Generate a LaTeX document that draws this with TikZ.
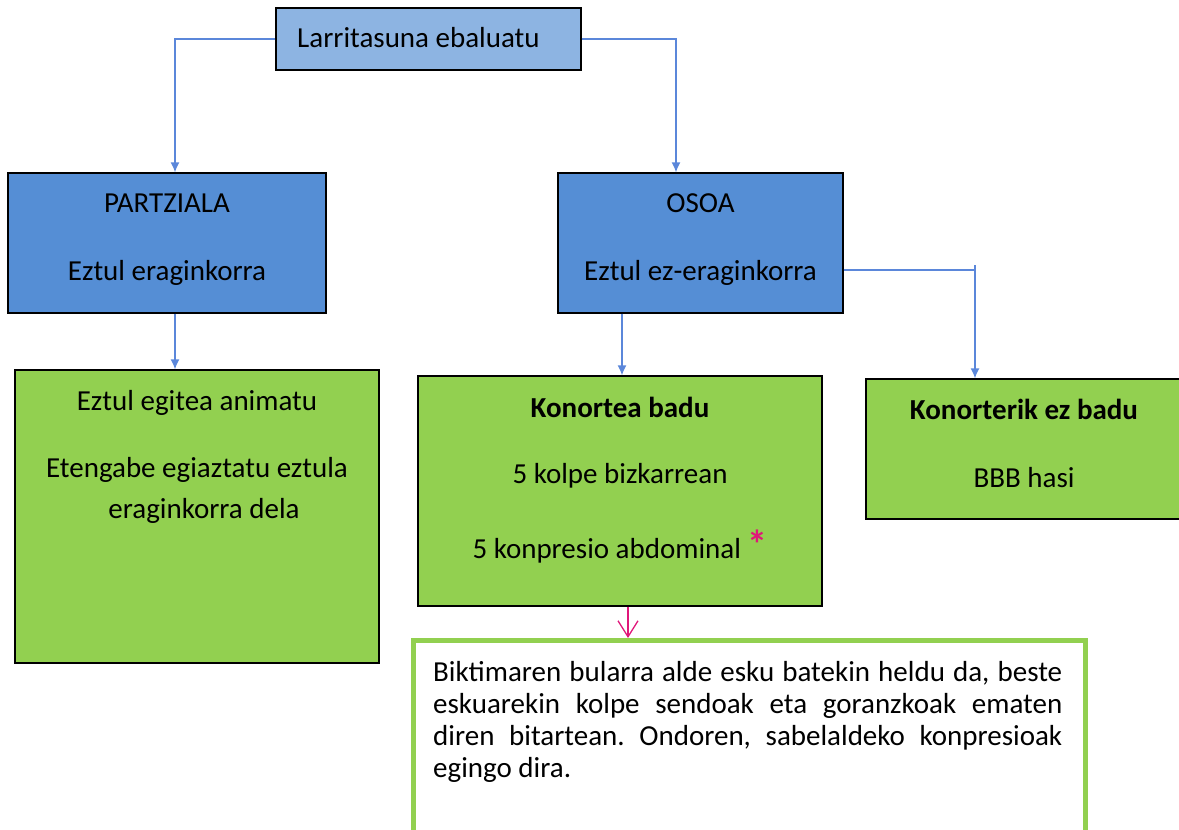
\documentclass[tikz,border=0pt]{standalone}
\usepackage{fontspec}
\setmainfont{Carlito}
\usepackage{xcolor}
\usetikzlibrary{arrows.meta}
\definecolor{topblue}{HTML}{8DB4E2}
\definecolor{caseblue}{HTML}{558ED5}
\definecolor{actgreen}{HTML}{92D050}
\definecolor{linkblue}{HTML}{5B87DA}
\definecolor{starpink}{HTML}{E0177A}
\tikzset{
  box/.style      = {shape=rectangle, draw=black, line width=1.3pt, inner sep=0pt},
  topbox/.style   = {box, fill=topblue},
  casebox/.style  = {box, fill=caseblue},
  actbox/.style   = {box, fill=actgreen},
  notebox/.style  = {shape=rectangle, draw=actgreen, line width=5pt, fill=white, inner sep=0pt},
  txt/.style      = {anchor=base, inner sep=0pt, font=\fontsize{29}{32}\selectfont},
  link/.style     = {draw=linkblue, line width=1.3pt, -{Latex[length=10pt,width=9pt]}},
  pinklink/.style = {draw=starpink, line width=1.3pt, -{Straight Barb[length=16pt,width=20pt]}}
}

\begin{document}
\begin{tikzpicture}[x=1pt, y=-1pt]
  \useasboundingbox (0,0) rectangle (1179,830);
  \clip (0,0) rectangle (1179,830);

  % boxes
  \node [topbox, minimum width=305pt, minimum height=62pt]   (top)    at (428.5,39)  {};
  \node [casebox, minimum width=318pt, minimum height=140pt] (partz)  at (167,243)   {};
  \node [casebox, minimum width=285pt, minimum height=140pt] (osoa)   at (700.5,243) {};
  \node [actbox, minimum width=364pt, minimum height=293pt]  (animatu) at (197,516.5) {};
  \node [actbox, minimum width=404pt, minimum height=230pt]  (badu)   at (620,491)   {};
  \node [actbox, minimum width=314pt, minimum height=140pt]  (ezbadu) at (1023,449)  {};
  \node [notebox, minimum width=672pt, minimum height=240pt, anchor=north west] (note) at (411,638) {};

  % texts
  \node [txt, anchor=base west] (topT) at (297,47) {Larritasuna ebaluatu};
  \node [txt] (partzA) at (167,212) {PARTZIALA};
  \node [txt] (partzB) at (167,280) {Eztul eraginkorra};
  \node [txt] (osoaA)  at (700.5,212) {OSOA};
  \node [txt] (osoaB)  at (700.5,280) {Eztul ez-eraginkorra};
  \node [txt] (animA)  at (197,410) {Eztul egitea animatu};
  \node [txt] (animB)  at (197,477) {Etengabe egiaztatu eztula};
  \node [txt] (animC)  at (204,518) {eraginkorra dela};
  \node [txt] (baduA)  at (620,417) {\bfseries Konortea badu};
  \node [txt] (baduB)  at (620,483) {5 kolpe bizkarrean};
  \node [txt] (baduC)  at (620,558) {5 konpresio abdominal {\color{starpink}\bfseries\fontsize{40}{40}\selectfont *}};
  \node [txt] (ezA)    at (1024,419) {\bfseries Konorterik ez badu};
  \node [txt] (ezB)    at (1024,487) {BBB hasi};
  \node [txt, anchor=north west, text width=629pt, align=justify] (noteT) at (433,661)
    {\frenchspacing\hyphenpenalty=10000 Biktimaren bularra alde esku batekin heldu da, beste\linebreak
     eskuarekin kolpe sendoak eta goranzkoak ematen\linebreak
     diren bitartean. Ondoren, sabelaldeko konpresioak\linebreak
     egingo dira.};

  % connectors
  \coordinate (kink) at (975,270);
  \coordinate (tick) at (975,265);
  \draw [link] (top.west) -| ([xshift=8pt]partz.north);
  \draw [link] (top.east) -| ([xshift=-24.5pt]osoa.north);
  \draw [link] ([xshift=8pt]partz.south) -- ([xshift=8pt]partz.south |- animatu.north);
  \draw [link] ([xshift=-78.5pt]osoa.south) -- ([xshift=-78.5pt]osoa.south |- badu.north);
  \draw [draw=linkblue, line width=1.3pt] (osoa.east |- kink) -- (kink);
  \draw [link] (tick) -- (tick |- ezbadu.north);
  \draw [pinklink] ([xshift=8pt]badu.south) -- ([xshift=8pt]badu.south |- note.north);
\end{tikzpicture}
\end{document}
